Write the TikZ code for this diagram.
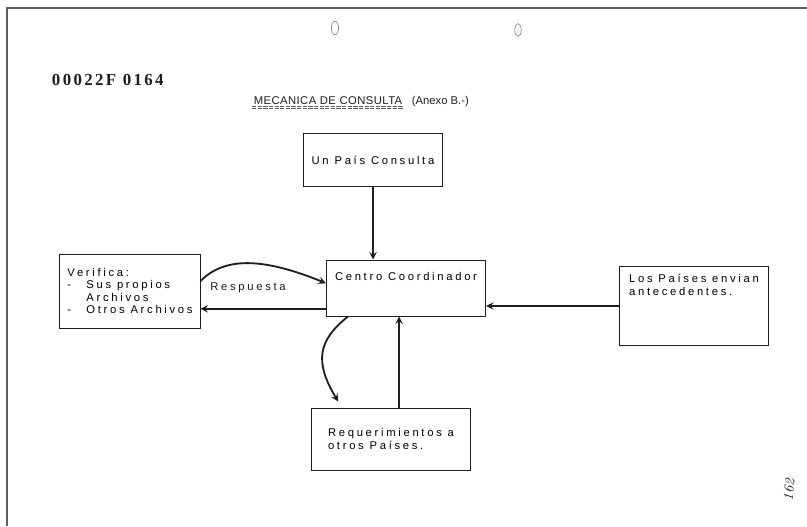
\documentclass[tikz,border=0pt]{standalone}
\usepackage{fontspec}
\usepackage{tikz}
\usetikzlibrary{arrows, positioning}
\newfontfamily\typefont[LetterSpace=24]{Liberation Sans}
\newfontfamily\titlefont[LetterSpace=4]{Liberation Sans}
\newfontfamily\plainfont{Liberation Sans}
\newfontfamily\stampfont[LetterSpace=14]{Liberation Serif}
\definecolor{inkdark}{RGB}{30, 30, 30}
\definecolor{inkgray}{RGB}{95, 95, 95}
\definecolor{inkpale}{RGB}{140, 140, 140}

\begin{document}
\begin{tikzpicture}[
    x=0.025cm, y=-0.025cm,
    box/.style={
        rectangle,
        draw=inkdark,
        line width=0.7pt,
        fill=white,
        align=left,
        inner sep=0pt,
        font=\typefont\fontsize{8}{8.8}\selectfont
    },
    arrow/.style={
        ->,
        >=stealth,
        line width=1.3pt,
        inkdark
    },
    txt/.style={
        font=\typefont\fontsize{8}{8.8}\selectfont,
        text=inkdark
    }
]

% Page
\useasboundingbox (0,0) rectangle (807,526);
\fill[white] (0,0) rectangle (807,526);
\draw[inkgray, line width=1.4pt] (807,8) -- (7,8) -- (7,526);

% Punch holes
\draw[inkpale, line width=0.5pt] (335,28) ellipse (0.09cm and 0.17cm);
\draw[inkpale, line width=0.5pt] (518,30) ellipse (0.08cm and 0.16cm);

% Heading
\node[font=\stampfont\bfseries\fontsize{12}{12}\selectfont, text=inkdark, anchor=west] (stamp) at (47,80) {00022F 0164};
\node[font=\titlefont\fontsize{8}{9}\selectfont, text=inkdark, inner sep=1pt] (title) at (328,101) {MECANICA DE CONSULTA};
\draw[inkgray, line width=0.5pt, dash pattern=on 3pt off 1pt] (title.south west) -- (title.south east);
\draw[inkgray, line width=0.5pt, dash pattern=on 3pt off 1pt] ([yshift=-1.2pt]title.south west) -- ([yshift=-1.2pt]title.south east);
\node[font=\plainfont\fontsize{8}{9}\selectfont, text=inkdark, anchor=west] (anexo) at (407,102) {(Anexo B.-)};

% Boxes
\node[box, minimum width=3.45cm, minimum height=1.33cm, align=center] (consulta) at (373,160) {Un País Consulta};
\node[box, minimum width=3.98cm, minimum height=1.4cm, text depth=0.6cm, align=center] (centro) at (406,288) {Centro Coordinador};
\node[box, minimum width=3.5cm, minimum height=1.85cm] (verifica) at (130,291) {Verifica:\\\makebox[13.5pt][l]{-}Sus propios\\\hspace*{13.5pt}Archivos\\\makebox[13.5pt][l]{-}Otros Archivos};
\node[box, minimum width=3.7cm, minimum height=1.98cm, text depth=1.05cm] (antecedentes) at (694,306) {Los Países envian\\antecedentes.};
\node[box, minimum width=3.95cm, minimum height=1.55cm] (requerimientos) at (391,439) {Requerimientos a\\otros Países.};

% Labels
\node[txt] (respuesta) at (248,288) {Respuesta};
\node[font=\itshape\fontsize{10}{10}\selectfont, text=inkdark, rotate=85] (folio) at (789,490) {162};

% Connections
\draw[arrow] (consulta) -- (consulta |- centro.north);
\draw[arrow] ([yshift=-0.52cm]centro.west) -- ([yshift=-0.52cm]centro.west -| verifica.east);
\draw[arrow] ([yshift=0.25cm]verifica.east) .. controls +(0.6cm,0.6cm) and +(-1.6cm,0.65cm) .. ([yshift=0.12cm]centro.west);
\draw[arrow] (antecedentes.west) -- (antecedentes.west -| centro.east);
\draw[arrow] ([xshift=0.2cm]requerimientos.north) -- ([xshift=0.2cm]requerimientos.north |- centro.south);
\draw[arrow] ([xshift=-1.45cm]centro.south) .. controls +(-0.75cm,-0.6cm) and +(-0.6cm,1.0cm) .. ([xshift=-1.32cm, yshift=0.15cm]requerimientos.north);

\end{tikzpicture}
\end{document}
